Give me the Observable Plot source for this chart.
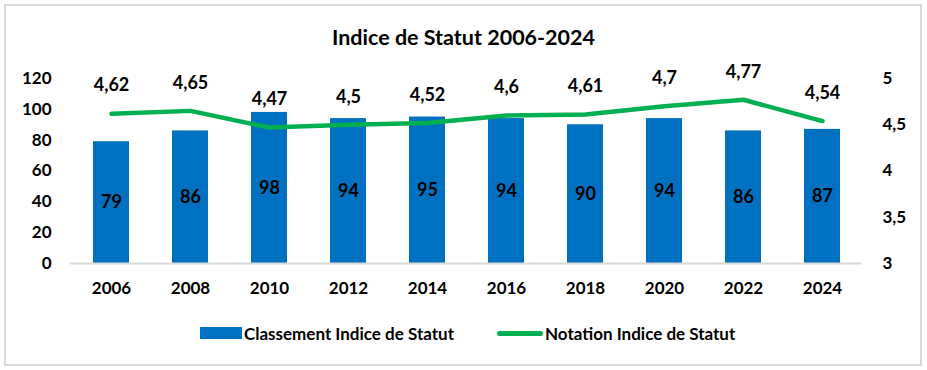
<!DOCTYPE html>
<html>
<head>
<meta charset="utf-8">
<script src="https://cdn.jsdelivr.net/npm/d3@7"></script>
<script src="https://cdn.jsdelivr.net/npm/@observablehq/plot@0.6"></script>
<style>
  body { margin: 0; background: #fff; font-family: Lato, "Open Sans", sans-serif; }
  #wrap { position: relative; width: 927px; height: 370px; overflow: hidden; }
  #frame { position: absolute; left: 4px; top: 4px; width: 914px; height: 358px; border: 2px solid #d9d9d9; }
  #title { position: absolute; left: 0; width: 927px; top: 24px; text-align: center; font-weight: 700; font-size: 21.5px; color: #000; line-height: 26px; }
  .layer { position: absolute; left: 0; top: 55px; }
  #legend { position: absolute; left: 0; top: 323px; width: 927px; height: 20px; font-weight: 700; font-size: 17px; color: #000; }
  .item { position: absolute; top: 0; display: flex; align-items: center; height: 20px; white-space: nowrap; }
  .sw { display: inline-block; margin-right: 2px; }
</style>
</head>
<body>
<div id="wrap">
  <div id="frame"></div>
  <div id="title">Indice de Statut 2006-2024</div>
  <div id="layer1" class="layer"></div>
  <div id="layer2" class="layer"></div>
  <div id="legend">
    <div class="item" style="left:200px"><span class="sw" style="width:42px;height:12px;background:#0070C0"></span>Classement Indice de Statut</div>
    <div class="item" style="left:497px"><span class="sw" style="width:46px;height:5px;border-radius:3px;background:#00B050"></span>Notation Indice de Statut</div>
  </div>
</div>
<script>
const years = ["2006","2008","2010","2012","2014","2016","2018","2020","2022","2024"];
const classement = [79, 86, 98, 94, 95, 94, 90, 94, 86, 87];
const notation = [4.62, 4.65, 4.47, 4.5, 4.52, 4.6, 4.61, 4.7, 4.77, 4.54];
const leftTicks = [0, 20, 40, 60, 80, 100, 120];
const rightTicks = [3, 3.5, 4, 4.5, 5];

const BLUE = "#0070C0", GREEN = "#00B050";
const comma = v => String(v).replace(".", ",");
const rows = years.map((y, i) => ({year: y, c: classement[i], n: notation[i]}));

const W = 927, H = 255, mt = 23, mb = 47, ml = 70, mr = 65;
const font = "Lato, 'Open Sans', sans-serif";

const p1 = Plot.plot({
  width: W, height: H, marginTop: mt, marginBottom: mb, marginLeft: ml, marginRight: mr,
  style: {fontFamily: font, fontWeight: 700, fontSize: "17px", color: "#000", background: "transparent", overflow: "visible"},
  x: {type: "band", domain: years, paddingInner: 0.545, paddingOuter: 0.2725, label: null},
  y: {domain: [0, 120], label: null},
  marks: [
    Plot.barY(rows, {x: "year", y: "c", fill: BLUE}),
    Plot.ruleY([0], {stroke: "#d9d9d9", strokeWidth: 2}),
    Plot.text(rows, {x: "year", y: d => d.c / 2, text: d => String(d.c), fill: "#000", fontSize: 18, fontWeight: 700}),
    Plot.axisY({ticks: leftTicks, tickSize: 0, tickPadding: 19, fontSize: 17, fontWeight: 700, label: null}),
    Plot.axisX({tickSize: 0, tickPadding: 18, fontSize: 17, fontWeight: 700, label: null})
  ]
});
document.getElementById("layer1").appendChild(p1);

const p2 = Plot.plot({
  width: W, height: H, marginTop: mt, marginBottom: mb, marginLeft: ml, marginRight: mr,
  style: {fontFamily: font, fontWeight: 700, fontSize: "17px", color: "#000", background: "transparent", overflow: "visible"},
  x: {type: "point", domain: years, padding: 0.5, axis: null},
  y: {domain: [3, 5], axis: null},
  marks: [
    Plot.line(rows, {x: "year", y: "n", stroke: GREEN, strokeWidth: 4.5, strokeLinecap: "round", strokeLinejoin: "round"}),
    Plot.text(rows, {x: "year", y: "n", dy: -28, text: d => comma(d.n), fill: "#000", fontSize: 18, fontWeight: 700}),
    Plot.axisY({anchor: "right", ticks: rightTicks, tickFormat: comma, tickSize: 0, tickPadding: 20, fontSize: 17, fontWeight: 700, label: null})
  ]
});
document.getElementById("layer2").appendChild(p2);
</script>
</body>
</html>
